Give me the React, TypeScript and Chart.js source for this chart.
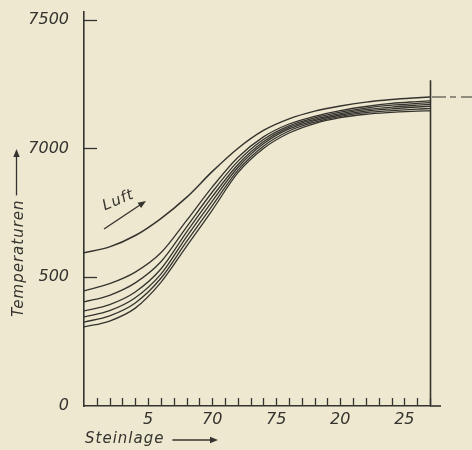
import { useEffect, useRef } from "react";
import { Chart, registerables } from "chart.js";

Chart.register(...registerables);

// Steinlage (brick layer) positions
const xValues = [0, 2, 4, 6, 8, 10, 12, 14, 16, 18, 20, 22, 24, 26, 27];

// Temperatures (air curve on top, then brick curves)
const luft = [595, 618, 662, 728, 810, 910, 1000, 1070, 1115, 1145, 1165, 1180, 1190, 1197, 1200];
const curve2 = [447, 475, 520, 595, 720, 850, 965, 1045, 1095, 1125, 1147, 1163, 1175, 1182, 1185];
const curve3 = [404, 430, 478, 560, 695, 830, 950, 1035, 1088, 1119, 1141, 1157, 1168, 1175, 1178];
const curve4 = [369, 394, 443, 532, 675, 812, 937, 1026, 1082, 1113, 1135, 1151, 1161, 1168, 1171];
const curve5 = [346, 370, 420, 512, 657, 795, 926, 1018, 1076, 1108, 1130, 1145, 1154, 1161, 1164];
const curve6 = [326, 350, 400, 496, 638, 777, 915, 1009, 1068, 1102, 1125, 1139, 1147, 1153, 1155];
const curve7 = [307, 330, 380, 480, 620, 760, 905, 1000, 1060, 1097, 1120, 1133, 1140, 1145, 1146];

const xTickValues = [5, 10, 15, 20, 25];
const xTickLabels = ["5", "70", "75", "20", "25"];
const xMinorTicks = [1, 2, 3, 4, 5, 6, 7, 8, 9, 10, 11, 12, 13, 14, 15, 16, 17, 18, 19, 20, 21, 22, 23, 24, 25, 26, 27];
const yTickValues = [0, 500, 1000, 1500];
const yTickLabels = ["0", "500", "7000", "7500"];
const yTickMarks = [500, 1000, 1500];

const xMin = 0;
const xMax = 27;
const yMin = 0;
const yMax = 1530;
const rightFrameTop = 1265;

const xAxisTitle = "Steinlage";
const yAxisTitle = "Temperaturen";
const curveLabel = "Luft";

const INK = "#35332f";
const BG = "#ede8cf";
const FONT = "'DejaVu Sans', sans-serif";

function arrowHead(ctx: CanvasRenderingContext2D, x: number, y: number, angle: number, size: number) {
  ctx.save();
  ctx.translate(x, y);
  ctx.rotate(angle);
  ctx.beginPath();
  ctx.moveTo(0, 0);
  ctx.lineTo(-size, -size * 0.4);
  ctx.lineTo(-size, size * 0.4);
  ctx.closePath();
  ctx.fill();
  ctx.restore();
}

const decorations = {
  id: "decorations",
  afterDraw(chart: any) {
    const { ctx, chartArea, scales } = chart;
    const { left, right, bottom } = chartArea;
    const xs = scales.x;
    const ys = scales.y;
    ctx.save();
    ctx.strokeStyle = INK;
    ctx.fillStyle = INK;
    ctx.lineWidth = 1.3;

    // y tick marks inside the plot
    for (const v of yTickMarks) {
      const py = Math.round(ys.getPixelForValue(v)) + 0.5;
      ctx.beginPath();
      ctx.moveTo(left, py);
      ctx.lineTo(left + 13, py);
      ctx.stroke();
    }
    // x minor ticks
    for (const v of xMinorTicks) {
      const px = Math.round(xs.getPixelForValue(v)) + 0.5;
      ctx.beginPath();
      ctx.moveTo(px, bottom - 1);
      ctx.lineTo(px, bottom - 8);
      ctx.stroke();
    }
    // right frame line
    const rx = Math.round(xs.getPixelForValue(xMax)) + 0.5;
    ctx.lineWidth = 1.6;
    ctx.beginPath();
    ctx.moveTo(rx, ys.getPixelForValue(0));
    ctx.lineTo(rx, ys.getPixelForValue(rightFrameTop));
    ctx.stroke();
    // x axis extension
    ctx.beginPath();
    ctx.moveTo(right, bottom);
    ctx.lineTo(right + 11, bottom);
    ctx.stroke();
    // dashed continuation of the air curve
    ctx.lineWidth = 1.2;
    const ey = ys.getPixelForValue(luft[luft.length - 1]);
    ctx.setLineDash([14, 4, 6, 5]);
    ctx.beginPath();
    ctx.moveTo(right + 2, ey);
    ctx.lineTo(472, ey);
    ctx.stroke();
    ctx.setLineDash([]);

    // titles
    ctx.font = `italic 15px ${FONT}`;
    try { (ctx as any).letterSpacing = "1px"; } catch (e) {}
    // x title
    ctx.textAlign = "left";
    ctx.textBaseline = "alphabetic";
    ctx.fillText(xAxisTitle, 85, 443);
    const xw = ctx.measureText(xAxisTitle).width;
    ctx.lineWidth = 1.3;
    ctx.beginPath();
    ctx.moveTo(85 + xw + 8, 440);
    ctx.lineTo(212, 440);
    ctx.stroke();
    arrowHead(ctx, 218, 440, 0, 8);

    // y title
    ctx.save();
    ctx.translate(19.5, 317);
    ctx.rotate(-Math.PI / 2);
    ctx.textBaseline = "middle";
    ctx.fillText(yAxisTitle, 0, 0);
    const yw = ctx.measureText(yAxisTitle).width;
    ctx.beginPath();
    ctx.moveTo(yw + 4, -3);
    ctx.lineTo(161, -3);
    ctx.stroke();
    arrowHead(ctx, 168, -3, 0, 8);
    ctx.restore();

    // Luft label
    ctx.save();
    ctx.translate(120, 204);
    ctx.rotate(-0.4);
    ctx.textAlign = "center";
    ctx.textBaseline = "alphabetic";
    ctx.font = `italic 15px ${FONT}`;
    ctx.fillText(curveLabel, 0, 0);
    ctx.restore();
    ctx.beginPath();
    ctx.moveTo(104, 229);
    ctx.lineTo(140, 205);
    ctx.stroke();
    arrowHead(ctx, 146, 201, Math.atan2(-28, 42), 8);

    ctx.restore();
  },
};

export default function App() {
  const ref = useRef<HTMLCanvasElement | null>(null);
  useEffect(() => {
    const canvas = ref.current;
    if (!canvas) return;
    const series = [luft, curve2, curve3, curve4, curve5, curve6, curve7];
    const chart = new Chart(canvas, {
      type: "line",
      data: {
        datasets: series.map((vals, i) => ({
          label: i === 0 ? curveLabel : `Stein ${i}`,
          data: vals.map((v, j) => ({ x: xValues[j], y: v })),
          borderColor: INK,
          borderWidth: i === 0 ? 1.5 : 1.3,
          pointRadius: 0,
          fill: false,
          cubicInterpolationMode: "monotone",
        })),
      },
      options: {
        animation: false,
        responsive: false,
        devicePixelRatio: 1,
        layout: { padding: { left: 0, top: 12, right: 42, bottom: 0 } },
        plugins: { legend: { display: false }, tooltip: { enabled: false } },
        scales: {
          x: {
            type: "linear",
            min: xMin,
            max: xMax,
            grid: { display: false, drawTicks: false },
            border: { display: true, color: INK, width: 1.6 },
            afterBuildTicks: (s: any) => {
              s.ticks = xTickValues.map((v) => ({ value: v }));
            },
            afterFit: (s: any) => {
              s.height = 44;
              s.paddingLeft = 0;
              s.paddingRight = 0;
            },
            ticks: {
              padding: 4,
              color: INK,
              font: { family: FONT, style: "italic", size: 16 },
              maxRotation: 0,
              autoSkip: false,
              callback: (v: any) => {
                const k = xTickValues.indexOf(Number(v));
                return k >= 0 ? xTickLabels[k] : "";
              },
            },
          },
          y: {
            type: "linear",
            min: yMin,
            max: yMax,
            grid: { display: false, drawTicks: false },
            border: { display: true, color: INK, width: 1.6 },
            afterBuildTicks: (s: any) => {
              s.ticks = yTickValues.map((v) => ({ value: v }));
            },
            afterFit: (s: any) => {
              s.width = 84;
              s.paddingTop = 0;
              s.paddingBottom = 0;
            },
            ticks: {
              padding: 15,
              color: INK,
              font: { family: FONT, style: "italic", size: 16 },
              autoSkip: false,
              callback: (v: any) => {
                const k = yTickValues.indexOf(Number(v));
                return k >= 0 ? yTickLabels[k] : "";
              },
            },
          },
        },
      },
      plugins: [decorations],
    } as any);
    return () => chart.destroy();
  }, []);

  return (
    <div style={{ position: "fixed", left: 0, top: 0, width: 472, height: 450, background: BG }}>
      <canvas ref={ref} width={472} height={450} style={{ width: 472, height: 450, display: "block" }} />
    </div>
  );
}
